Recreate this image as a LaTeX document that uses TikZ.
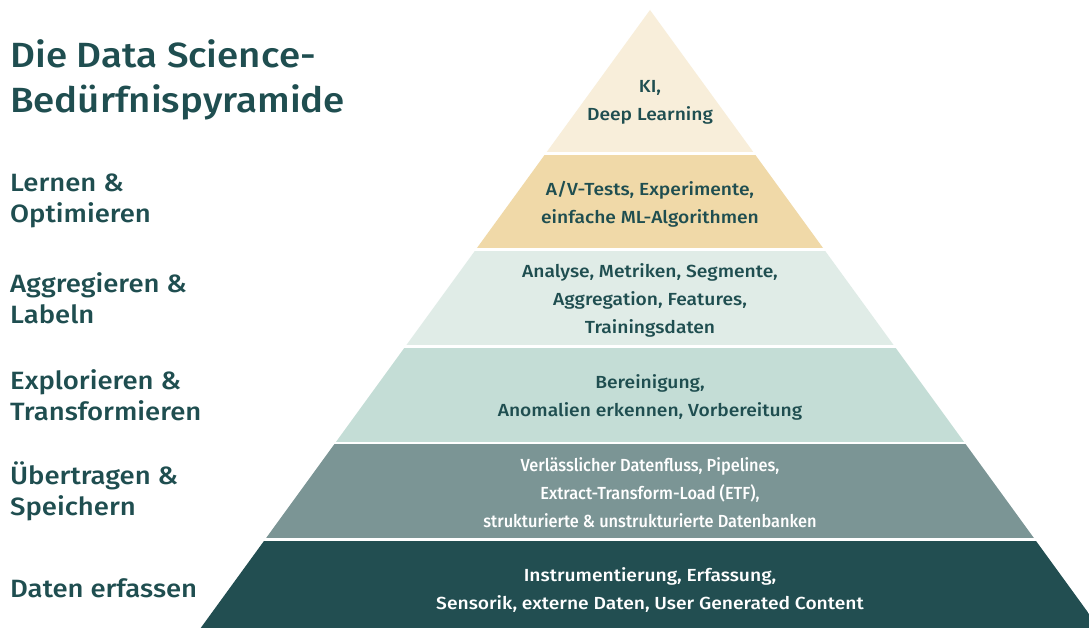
\documentclass[tikz,border=0pt]{standalone}
\usepackage{fontspec}
\setmainfont{Fira Sans}[UprightFont=* Medium, BoldFont=* SemiBold, FakeStretch=1.1]
\definecolor{ink}{HTML}{1F4E50}
\definecolor{lvA}{HTML}{F8EEDA}
\definecolor{lvB}{HTML}{F0D9A8}
\definecolor{lvC}{HTML}{E0ECE7}
\definecolor{lvD}{HTML}{C4DDD6}
\definecolor{lvE}{HTML}{7B9595}
\definecolor{lvF}{HTML}{224E51}
\tikzset{
  band/.style={inner sep=0pt, align=center, font=\fontsize{17.5}{28}\selectfont, text=ink},
  bandlight/.style={band, text=white},
  side/.style={anchor=west, align=left, inner sep=0pt, font=\fontsize{25}{31}\selectfont, text=ink},
  headline/.style={anchor=west, align=left, inner sep=0pt, font=\fontsize{35}{45}\selectfont, text=ink}
}
\begin{document}
\begin{tikzpicture}[x=1pt,y=-1pt]
\useasboundingbox (0,0) rectangle (1089,628);
\fill[white] (0,0) rectangle (1089,628);
% pyramid bands, cut to the triangle outline
\begin{scope}
  \clip (0,0) rectangle (1089,628);
  \clip (650,10) -- (200.7,628) -- (1099.3,628) -- cycle;
  \fill[lvA] (150,0)   rectangle (1150,152.5);
  \fill[lvB] (150,155) rectangle (1150,248.5);
  \fill[lvC] (150,251) rectangle (1150,345);
  \fill[lvD] (150,347.5) rectangle (1150,441.5);
  \fill[lvE] (150,444) rectangle (1150,538);
  \fill[lvF] (150,540.5) rectangle (1150,640);
\end{scope}
% texts inside the bands
\node[band] (t1) at (650,102) {KI,\\Deep Learning};
\node[band] (t2) at (650,204) {A/V-Tests, Experimente,\\einfache ML-Algorithmen};
\node[band] (t3) at (650,300) {Analyse, Metriken, Segmente,\\Aggregation, Features,\\Trainingsdaten};
\node[band] (t4) at (650,397) {Bereinigung,\\Anomalien erkennen, Vorbereitung};
\node[bandlight, xscale=0.85] (t5) at (650,493) {Verlässlicher Datenfluss, Pipelines,\\Extract-Transform-Load (ETF),\\strukturierte \& unstrukturierte Datenbanken};
\node[bandlight] (t6) at (650,590) {Instrumentierung, Erfassung,\\Sensorik, externe Daten, User Generated Content};
% headline and level names
\node[headline] (title) at (10,80) {Die Data Science-\\Bedürfnispyramide};
\node[side] (s2) at (10,201) {Lernen \&\\Optimieren};
\node[side] (s3) at (10,298) {Aggregieren \&\\Labeln};
\node[side] (s4) at (10,395) {Explorieren \&\\Transformieren};
\node[side] (s5) at (10,491) {Übertragen \&\\Speichern};
\node[side] (s6) at (10,588) {Daten erfassen};
\end{tikzpicture}
\end{document}
